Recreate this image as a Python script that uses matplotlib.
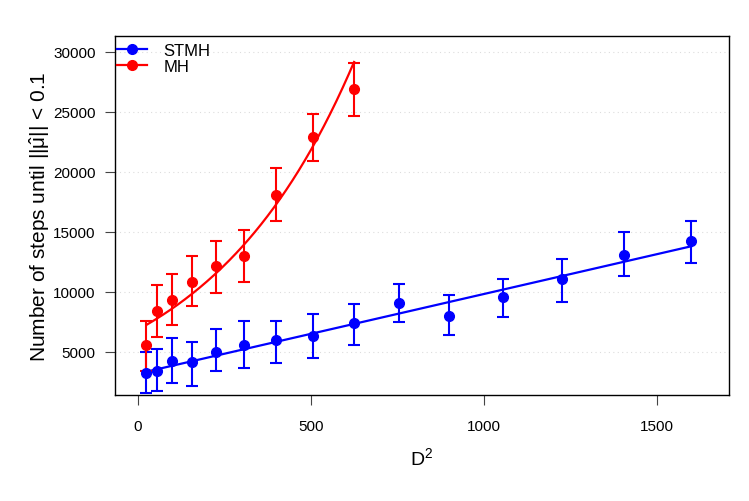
import numpy as np
import matplotlib
matplotlib.use("Agg")
import matplotlib.pyplot as plt

plt.rcParams["font.family"] = ["Liberation Sans", "DejaVu Sans"]
plt.rcParams["mathtext.fontset"] = "custom"
plt.rcParams["mathtext.rm"] = "Liberation Sans"
plt.rcParams["mathtext.it"] = "Liberation Sans"

# D^2 for D = 5, 7.5, ..., 40
d2 = [25, 56.25, 100, 156.25, 225, 306.25, 400, 506.25, 625,
      756.25, 900, 1056.25, 1225, 1406.25, 1600]

stmh_mean = [3200, 3420, 4200, 4110, 5000, 5560, 6000, 6280, 7390,
             9030, 8000, 9530, 11030, 13030, 14220]
stmh_hi = [4950, 5220, 6170, 5780, 6870, 7560, 7580, 8140, 8970,
           10640, 9700, 11030, 12720, 14970, 15910]
stmh_lo = [1560, 1700, 2390, 2110, 3390, 3640, 4030, 4470, 5580,
           7470, 6420, 7920, 9170, 11300, 12370]

mh_x = d2[:9]
mh_mean = [5560, 8370, 9330, 10780, 12110, 13000, 18080, 22910, 26880]
mh_hi = [7580, 10580, 11500, 13000, 14220, 15140, 20280, 24800, 29050]
mh_lo = [3420, 6200, 7250, 8810, 9860, 10810, 15860, 20850, 24650]

# fitted curves (linear for STMH, exponential for MH)
stmh_fit_x = [25, 1600]
stmh_fit_y = [3330, 13780]
mh_fit_a, mh_fit_b = 6820.0, 0.002323

fig = plt.figure(figsize=(7.49, 5.02), dpi=100)
ax = fig.add_axes([0.1535, 0.2112, 0.8195, 0.7148])

for y in [5000, 10000, 15000, 20000, 25000, 30000]:
    ax.axhline(y, color="#dddddd", lw=0.8, ls=(0, (1, 3)), zorder=0)

blue = "#0000ff"; red = "#ff0000"
x = np.array(d2); m = np.array(stmh_mean)
ax.errorbar(x, m, yerr=[m - np.array(stmh_lo), np.array(stmh_hi) - m], fmt="o",
            color=blue, ms=7, capsize=4.5, elinewidth=1.5, capthick=1.5, zorder=3)
ax.plot(stmh_fit_x, stmh_fit_y, color=blue, lw=1.6, zorder=2)

xm = np.array(mh_x); mm = np.array(mh_mean)
ax.errorbar(xm, mm, yerr=[mm - np.array(mh_lo), np.array(mh_hi) - mm], fmt="o",
            color=red, ms=7, capsize=4.5, elinewidth=1.5, capthick=1.5, zorder=3)
xf = np.linspace(25, 625, 200)
ax.plot(xf, mh_fit_a * np.exp(mh_fit_b * xf), color=red, lw=1.6, zorder=2)

ax.plot([], [], "-o", color=blue, ms=7, lw=1.6, label="STMH")
ax.plot([], [], "-o", color=red, ms=7, lw=1.6, label="MH")
ax.legend(loc="upper left", frameon=False, fontsize=12, handlelength=1.8,
          borderaxespad=0.0, labelspacing=0.05, handletextpad=1.0,
          bbox_to_anchor=(-0.008, 1.0))

ax.set_xlim(-66, 1708)
ax.set_ylim(1390, 31280)
ax.set_xticks([0, 500, 1000, 1500])
ax.set_yticks([5000, 10000, 15000, 20000, 25000, 30000])
ax.tick_params(direction="out", length=7, width=0.8, labelsize=11, pad=7, color="#444444")
ax.tick_params(axis="x", pad=10)
for sp in ax.spines.values():
    sp.set_linewidth(1.0)
ax.set_xlabel(r"D$^2$", fontsize=14, labelpad=10)
ax.set_ylabel(r"Number of steps until $||\hat{\mu}||$ < 0.1", fontsize=15)
ax.yaxis.set_label_coords(-0.1026, 0.5)

fig.savefig("out.png", dpi=100)
